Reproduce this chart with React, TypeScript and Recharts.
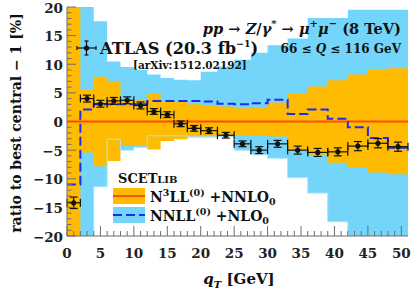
import React from "react";
import { ComposedChart, Area, Line, Scatter, ErrorBar, XAxis, YAxis } from "recharts";

// bin edges in qT [GeV] (ATLAS 8 TeV binning)
const binEdges = [0, 2, 4, 6, 8, 10, 12, 14, 16, 18, 20, 22.5, 25, 27.5, 30, 33, 36, 39, 42, 45, 48, 51];

// N3LL+NNLO0 uncertainty band, ratio to central [%]
const n3llHi = [30, 5.5, 7.8, 7.0, 3.9, 3.7, 5.0, 3.6, 3.4, 3.0, 2.8, 2.6, 2.3, 2.4, 3.3, 4.9, 6.1, 7.2, 8.2, 9.1, 9.3];
const n3llLo = [-30, -5.4, -7.8, -6.9, -4.3, -4.3, -4.9, -3.4, -3.1, -2.8, -2.8, -2.5, -2.5, -2.5, -2.6, -4.9, -5.8, -7.2, -8.1, -8.9, -9.2];

// NNLL+NLO0 uncertainty band
const nnllHi = [30, 30, 17.5, 10.5, 9.5, 9.0, 8.2, 7.6, 7.3, 7.2, 8.7, 9.6, 10.8, 12.0, 13.3, 14.5, 18.1, 18.1, 19.5, 19.5, 19.5];
const nnllLo = [-30, -30, -11.4, -3.1, -5.0, -4.5, -2.5, -2.5, -2.5, -2.6, -2.6, -2.6, -5.0, -5.8, -6.4, -9.8, -12.5, -17.5, -30, -30, -30];
// NNLL central relative to N3LL central
const nnllCentral = [-11, 2.1, 3.0, 3.0, 3.0, 3.0, 3.6, 3.6, 3.6, 3.6, 3.5, 3.1, 3.0, 3.2, 3.8, 1.3, 2.1, 0.5, -1.0, -2.9, -4.6];
const n3llCentral = [0, 0, 0, 0, 0, 0, 0, 0, 0, 0, 0, 0, 0, 0, 0, 0, 0, 0, 0, 0, 0];

// ATLAS data
const atlasX = [1, 3, 5, 7, 9, 11, 13, 15, 17, 19, 21.25, 23.75, 26.25, 28.75, 31.5, 34.5, 37.5, 40.5, 43.5, 46.5, 49.5];
const atlasXErr = [1, 1, 1, 1, 1, 1, 1, 1, 1, 1, 1.25, 1.25, 1.25, 1.25, 1.5, 1.5, 1.5, 1.5, 1.5, 1.5, 1.5];
const atlasY = [-14.2, 4.0, 3.1, 3.6, 3.7, 2.8, 1.75, 1.2, -0.4, -1.2, -1.6, -2.4, -3.9, -5.0, -3.9, -5.0, -5.4, -5.3, -4.3, -3.8, -4.4];
const atlasYErr = [1.0, 0.6, 0.6, 0.6, 0.6, 0.6, 0.5, 0.5, 0.5, 0.5, 0.5, 0.5, 0.5, 0.6, 0.6, 0.7, 0.7, 0.7, 0.8, 0.8, 0.8];

const xTicks = Array.from({ length: 51 }, (_, i) => i);
const yTicks = Array.from({ length: 41 }, (_, i) => i - 20);

const FONT = "'DejaVu Serif', serif";
const AX = "#6e6e6e";
const ORANGE = "#ffbb00";
const SKY = "#74d5fb";
const RED = "#ff4d00";
const BLUE = "#1b2ef0";

// step rows: one row per edge, last bin repeated at the closing edge
const stepRows = binEdges.map((e, i) => {
  const k = Math.min(i, n3llHi.length - 1);
  return {
    x: e,
    n3llBand: [n3llLo[k], n3llHi[k]],
    nnllBand: [nnllLo[k], nnllHi[k]],
    nnllLo: nnllLo[k],
    nnll: nnllCentral[k],
    n3ll: n3llCentral[k],
  };
});

const atlasRows = atlasX.map((x, i) => ({ x, y: atlasY[i], ex: atlasXErr[i], ey: atlasYErr[i] }));

const fmt = (v: number) => (v < 0 ? "\u2212" + Math.abs(v) : String(v));

function LeftTick(props: any) {
  const { x, y, payload } = props;
  const v = payload.value;
  const major = v % 5 === 0;
  const ax = x + 4;
  return (
    <g>
      <line x1={ax} x2={ax + (major ? 9 : 4.5)} y1={y} y2={y} stroke={AX} />
      {major && (
        <text x={x} y={y + 5.5} textAnchor="end" fontFamily={FONT} fontWeight="bold" fontSize={13.5} fill="#222">
          {fmt(v)}
        </text>
      )}
    </g>
  );
}

function RightTick(props: any) {
  const { x, y, payload } = props;
  const major = payload.value % 5 === 0;
  return <line x1={x} x2={x - (major ? 9 : 4.5)} y1={y} y2={y} stroke={AX} />;
}

function BottomTick(props: any) {
  const { x, y, payload } = props;
  const v = payload.value;
  const major = v % 5 === 0;
  return (
    <g>
      <line x1={x} x2={x} y1={y} y2={y - (major ? 10 : 5)} stroke={AX} />
      {major && (
        <text x={x} y={y + 22} textAnchor="middle" fontFamily={FONT} fontWeight="bold" fontSize={13.5} fill="#222">
          {v}
        </text>
      )}
    </g>
  );
}

function TopTick(props: any) {
  const { x, y, payload } = props;
  const major = payload.value % 5 === 0;
  return <line x1={x} x2={x} y1={y} y2={y + (major ? 9 : 4.5)} stroke={AX} />;
}

function Dot(props: any) {
  const { cx, cy } = props;
  return <circle cx={cx} cy={cy} r={2.6} fill="#111" />;
}

export default function App() {
  return (
    <div style={{ position: "absolute", left: 0, top: 0, width: 415, height: 291, background: "#fff" }}>
      <ComposedChart width={415} height={291} margin={{ top: 7, right: 7, left: 0, bottom: 0 }}>
        <XAxis
          dataKey="x"
          type="number"
          domain={[0, 51]}
          allowDataOverflow
          ticks={xTicks}
          interval={0}
          height={55}
          tickSize={0}
          tickMargin={0}
          tickLine={false}
          tick={<BottomTick />}
          axisLine={{ stroke: AX }}
        />
        <XAxis
          xAxisId="top"
          orientation="top"
          dataKey="x"
          type="number"
          domain={[0, 51]}
          allowDataOverflow
          ticks={xTicks}
          interval={0}
          height={0}
          tickSize={0}
          tickMargin={0}
          tickLine={false}
          tick={<TopTick />}
          axisLine={{ stroke: AX }}
        />
        <YAxis
          type="number"
          domain={[-20, 20]}
          allowDataOverflow
          ticks={yTicks}
          interval={0}
          width={67}
          tickSize={0}
          tickMargin={4}
          tickLine={false}
          tick={<LeftTick />}
          axisLine={{ stroke: AX }}
        />
        <YAxis
          yAxisId="right"
          orientation="right"
          type="number"
          domain={[-20, 20]}
          allowDataOverflow
          ticks={yTicks}
          interval={0}
          width={0}
          tickSize={0}
          tickMargin={0}
          tickLine={false}
          tick={<RightTick />}
          axisLine={{ stroke: AX }}
        />
        <Area data={stepRows} dataKey="nnllBand" type="stepAfter" fill={SKY} fillOpacity={1} stroke="none" isAnimationActive={false} />
        <Area data={stepRows} dataKey="n3llBand" type="stepAfter" fill={ORANGE} fillOpacity={1} stroke="none" isAnimationActive={false} />
        <Line data={stepRows} dataKey="nnllLo" type="stepAfter" stroke="#a6e4f4" strokeWidth={1} dot={false} isAnimationActive={false} />
        <Line data={stepRows} dataKey="n3ll" type="stepAfter" stroke={RED} strokeWidth={2} dot={false} isAnimationActive={false} />
        <Line data={stepRows} dataKey="nnll" type="stepAfter" stroke={BLUE} strokeWidth={2} strokeDasharray="9 4" dot={false} isAnimationActive={false} />
        <Scatter data={atlasRows} dataKey="y" shape={<Dot />} isAnimationActive={false}>
          <ErrorBar dataKey="ey" direction="y" width={4} stroke="#111" strokeWidth={1.2} />
          <ErrorBar dataKey="ex" direction="x" width={4} stroke="#111" strokeWidth={1.2} />
        </Scatter>
      </ComposedChart>

      <svg width={415} height={291} style={{ position: "absolute", left: 0, top: 0, pointerEvents: "none" }} fontFamily={FONT} fontWeight="bold" fill="#111">
        {/* axis titles */}
        <text transform="rotate(-90)" x={-123} y={21} textAnchor="middle" fontSize={14}>
          ratio to best central − 1 [%]
        </text>
        <text x={239} y={284} textAnchor="middle" fontSize={15}>
          <tspan fontStyle="italic">q</tspan>
          <tspan fontStyle="italic" fontSize={10} dy={4}>T</tspan>
          <tspan dy={-4}> [GeV]</tspan>
        </text>

        {/* process label */}
        <text x={401} y={34} textAnchor="end" fontSize={14.6}>
          <tspan fontStyle="italic">pp</tspan>
          <tspan>{" → "}</tspan>
          <tspan fontStyle="italic">Z</tspan>
          <tspan>/</tspan>
          <tspan fontStyle="italic">γ</tspan>
          <tspan fontSize={10} dy={-7}>*</tspan>
          <tspan dy={7}>{" → "}</tspan>
          <tspan fontStyle="italic">μ</tspan>
          <tspan fontSize={10} dy={-7}>+</tspan>
          <tspan fontStyle="italic" dy={7}>μ</tspan>
          <tspan fontSize={10} dy={-7}>−</tspan>
          <tspan dy={7}>{" (8 TeV)"}</tspan>
        </text>

        {/* ATLAS legend entry */}
        <line x1={77} x2={96} y1={48} y2={48} stroke="#111" strokeWidth={1.2} />
        <line x1={77} x2={77} y1={46} y2={50} stroke="#111" strokeWidth={1.2} />
        <line x1={96} x2={96} y1={46} y2={50} stroke="#111" strokeWidth={1.2} />
        <line x1={86.5} x2={86.5} y1={41} y2={55} stroke="#111" strokeWidth={1.2} />
        <line x1={84.5} x2={88.5} y1={41} y2={41} stroke="#111" strokeWidth={1.2} />
        <line x1={84.5} x2={88.5} y1={55} y2={55} stroke="#111" strokeWidth={1.2} />
        <circle cx={86.5} cy={48} r={2.6} fill="#111" />
        <text x={100} y={54} fontSize={16.2}>
          <tspan>ATLAS (20.3 fb</tspan>
          <tspan fontSize={9.5} dy={-7}>−1</tspan>
          <tspan dy={7}>)</tspan>
        </text>
        <text x={401} y={53} textAnchor="end" fontSize={12}>
          <tspan>66 ≤ </tspan>
          <tspan fontStyle="italic">Q</tspan>
          <tspan> ≤ 116 GeV</tspan>
        </text>
        <text x={133} y={69} fontSize={10.5}>[arXiv:1512.02192]</text>

        {/* SCETlib legend */}
        <text x={118} y={183} fontSize={13}>
          <tspan>SCET</tspan>
          <tspan fontSize={10}>LIB</tspan>
        </text>
        <rect x={113} y={188} width={32} height={16} fill={ORANGE} />
        <line x1={113} x2={145} y1={196} y2={196} stroke={RED} strokeWidth={2} />
        <rect x={113} y={207} width={32} height={16} fill={SKY} />
        <line x1={113} x2={145} y1={215} y2={215} stroke={BLUE} strokeWidth={2} strokeDasharray="9 4" />
        <text x={150} y={202} fontSize={14}>
          <tspan>N</tspan>
          <tspan fontSize={9.5} dy={-6}>3</tspan>
          <tspan dy={6}>LL</tspan>
          <tspan fontSize={9.5} dy={-6}>(0)</tspan>
          <tspan dy={6}>{" +NNLO"}</tspan>
          <tspan fontSize={9.5} dy={3}>0</tspan>
        </text>
        <text x={150} y={221} fontSize={14}>
          <tspan>NNLL</tspan>
          <tspan fontSize={9.5} dy={-6}>(0)</tspan>
          <tspan dy={6}>{" +NLO"}</tspan>
          <tspan fontSize={9.5} dy={3}>0</tspan>
        </text>
      </svg>
    </div>
  );
}
